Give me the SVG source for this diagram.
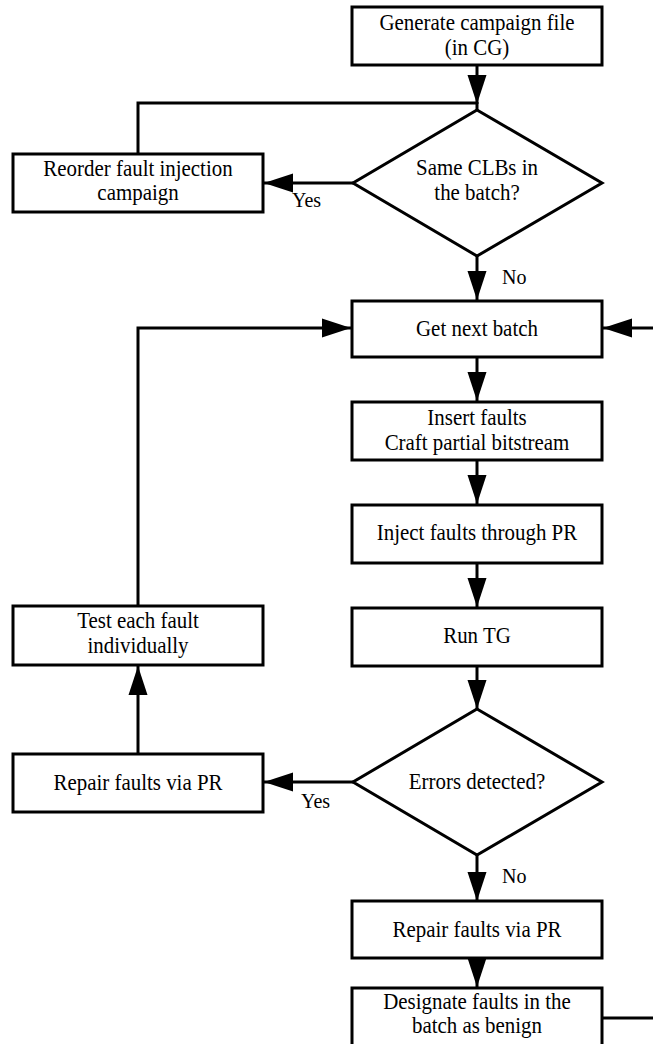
<svg xmlns="http://www.w3.org/2000/svg" width="653" height="1044" viewBox="0 0 653 1044">
<style>
.box{fill:#fff;stroke:#000;stroke-width:3}
.ln{fill:none;stroke:#000;stroke-width:3}
.ar{fill:none;stroke:#000;stroke-width:3;marker-end:url(#ah)}
text{font-family:"Liberation Serif","Times New Roman",serif;font-size:23px;fill:#000;text-anchor:middle}
.lbl{font-size:22px;text-anchor:start}
</style>
<defs>
<marker id="ah" markerUnits="userSpaceOnUse" markerWidth="30" markerHeight="20" refX="29" refY="10" orient="auto" viewBox="0 0 30 20">
<path d="M0,0.5 L29,10 L0,19.5 z" fill="#000"/>
</marker>
</defs>
<rect width="653" height="1044" fill="#fff"/>
<g id="connectors">
<path class="ar" d="M477,65 V104"/>
<path class="ln" d="M477,102 V111"/>
<path class="ln" d="M138,154 V103 H478"/>
<path class="ar" d="M353,183 H264"/>
<path class="ar" d="M477,256 V300"/>
<path class="ar" d="M477,357 V401"/>
<path class="ar" d="M477,460 V504"/>
<path class="ar" d="M477,563 V607"/>
<path class="ar" d="M477,666 V709"/>
<path class="ar" d="M353,782 H264"/>
<path class="ar" d="M477,855 V901"/>
<path class="ar" d="M477,958 V987"/>
<path class="ar" d="M138,754 V666"/>
<path class="ar" d="M138,606 V328 H351"/>
<path class="ar" d="M602,1018 H659 V328 H603"/>
</g>
<g id="n-generate">
<rect class="box" x="352" y="7" width="250" height="58"/>
<g transform="scale(0.91 1)"><text x="524.18" y="30">Generate campaign file</text>
<text x="524.18" y="55">(in CG)</text></g>
</g>
<g id="n-same">
<polygon class="box" points="477,110 602,183 477,256 353,183"/>
<g transform="scale(0.91 1)"><text x="524.18" y="175">Same CLBs in</text>
<text x="524.18" y="200">the batch?</text></g>
</g>
<g id="n-reorder">
<rect class="box" x="13" y="154" width="250" height="58"/>
<g transform="scale(0.91 1)"><text x="151.65" y="176">Reorder fault injection</text>
<text x="151.65" y="200">campaign</text></g>
</g>
<g id="n-next">
<rect class="box" x="352" y="301" width="250" height="56"/>
<g transform="scale(0.91 1)"><text x="524.18" y="336">Get next batch</text></g>
</g>
<g id="n-insert">
<rect class="box" x="352" y="402" width="250" height="58"/>
<g transform="scale(0.91 1)"><text x="524.18" y="425">Insert faults</text>
<text x="524.18" y="450">Craft partial bitstream</text></g>
</g>
<g id="n-inject">
<rect class="box" x="352" y="505" width="250" height="58"/>
<g transform="scale(0.91 1)"><text x="524.18" y="540">Inject faults through PR</text></g>
</g>
<g id="n-runtg">
<rect class="box" x="352" y="608" width="250" height="58"/>
<g transform="scale(0.91 1)"><text x="524.18" y="643">Run TG</text></g>
</g>
<g id="n-test">
<rect class="box" x="13" y="606" width="250" height="59"/>
<g transform="scale(0.91 1)"><text x="151.65" y="628">Test each fault</text>
<text x="151.65" y="653">individually</text></g>
</g>
<g id="n-errors">
<polygon class="box" points="477,709 602,782 477,855 353,782"/>
<g transform="scale(0.91 1)"><text x="524.18" y="789">Errors detected?</text></g>
</g>
<g id="n-repair-left">
<rect class="box" x="13" y="754" width="250" height="58"/>
<g transform="scale(0.91 1)"><text x="151.65" y="790">Repair faults via PR</text></g>
</g>
<g id="n-repair">
<rect class="box" x="352" y="901" width="250" height="57"/>
<g transform="scale(0.91 1)"><text x="524.18" y="937">Repair faults via PR</text></g>
</g>
<g id="n-designate">
<rect class="box" x="352" y="988" width="250" height="60"/>
<g transform="scale(0.91 1)"><text x="524.18" y="1009">Designate faults in the</text>
<text x="524.18" y="1033">batch as benign</text></g>
</g>
<g id="labels" transform="scale(0.91 1)">
<text class="lbl" x="320.88" y="207">Yes</text>
<text class="lbl" x="551.65" y="284">No</text>
<text class="lbl" x="330.77" y="808">Yes</text>
<text class="lbl" x="551.65" y="883">No</text>
</g>
</svg>
